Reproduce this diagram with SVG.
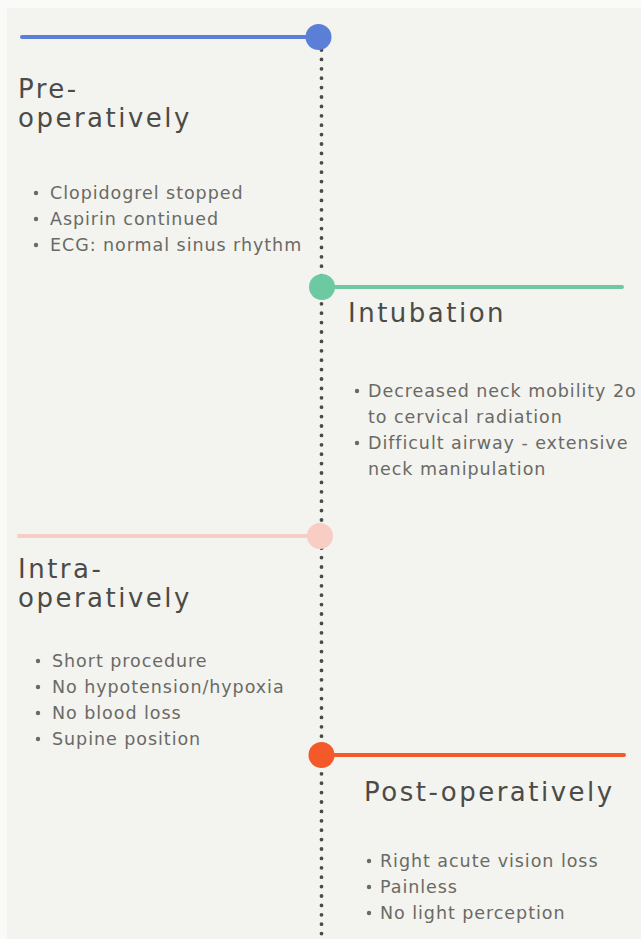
<svg xmlns="http://www.w3.org/2000/svg" width="641" height="939" viewBox="0 0 641 939">
<style>
.title{font-family:"DejaVu Sans",sans-serif;font-size:26px;fill:#4b4b47;letter-spacing:2.5px}
.item{font-family:"DejaVu Sans",sans-serif;font-size:17.5px;fill:#6a6a65;letter-spacing:0.95px}
.bullet{fill:#6a6a65}
</style>
<rect x="0" y="0" width="641" height="939" fill="#fafaf8"/>
<rect x="7" y="8" width="634" height="931" fill="#f3f3ef"/>
<g id="connectors">
<line x1="321.5" y1="50" x2="321.5" y2="939" stroke="#4a4a47" stroke-width="3.8" stroke-linecap="round" stroke-dasharray="0 9.4"/>
</g>
<g id="pre">
<line x1="22" y1="37" x2="318" y2="37" stroke="#5b7fd6" stroke-width="4" stroke-linecap="round"/>
<circle cx="318.5" cy="37" r="13" fill="#5b7fd6"/>
<text class="title" x="18" y="98">Pre-</text>
<text class="title" x="18" y="127">operatively</text>
<circle class="bullet" cx="36" cy="193" r="2.2"/><text class="item" x="50" y="199">Clopidogrel stopped</text>
<circle class="bullet" cx="36" cy="219" r="2.2"/><text class="item" x="50" y="225">Aspirin continued</text>
<circle class="bullet" cx="36" cy="245" r="2.2"/><text class="item" x="50" y="251">ECG: normal sinus rhythm</text>
</g>
<g id="intubation">
<line x1="322" y1="287" x2="622" y2="287" stroke="#6cc9a1" stroke-width="4" stroke-linecap="round"/>
<circle cx="322" cy="287" r="13" fill="#6cc9a1"/>
<text class="title" x="348" y="322">Intubation</text>
<circle class="bullet" cx="357" cy="391" r="2.2"/><text class="item" x="368" y="397">Decreased neck mobility 2o</text>
<text class="item" x="368" y="423">to cervical radiation</text>
<circle class="bullet" cx="357" cy="443" r="2.2"/><text class="item" x="368" y="449">Difficult airway - extensive</text>
<text class="item" x="368" y="475">neck manipulation</text>
</g>
<g id="intra">
<line x1="19" y1="536" x2="320" y2="536" stroke="#f8cdc3" stroke-width="4" stroke-linecap="round"/>
<circle cx="320" cy="536" r="13" fill="#f8cdc3"/>
<text class="title" x="18" y="578">Intra-</text>
<text class="title" x="18" y="607">operatively</text>
<circle class="bullet" cx="38" cy="661" r="2.2"/><text class="item" x="52" y="667">Short procedure</text>
<circle class="bullet" cx="38" cy="687" r="2.2"/><text class="item" x="52" y="693">No hypotension/hypoxia</text>
<circle class="bullet" cx="38" cy="713" r="2.2"/><text class="item" x="52" y="719">No blood loss</text>
<circle class="bullet" cx="38" cy="739" r="2.2"/><text class="item" x="52" y="745">Supine position</text>
</g>
<g id="post">
<line x1="322" y1="755" x2="624" y2="755" stroke="#f4592a" stroke-width="4" stroke-linecap="round"/>
<circle cx="321.5" cy="755" r="13" fill="#f4592a"/>
<text class="title" x="364" y="801">Post-operatively</text>
<circle class="bullet" cx="369" cy="861" r="2.2"/><text class="item" x="380" y="867">Right acute vision loss</text>
<circle class="bullet" cx="369" cy="887" r="2.2"/><text class="item" x="380" y="893">Painless</text>
<circle class="bullet" cx="369" cy="913" r="2.2"/><text class="item" x="380" y="919">No light perception</text>
</g>
</svg>
